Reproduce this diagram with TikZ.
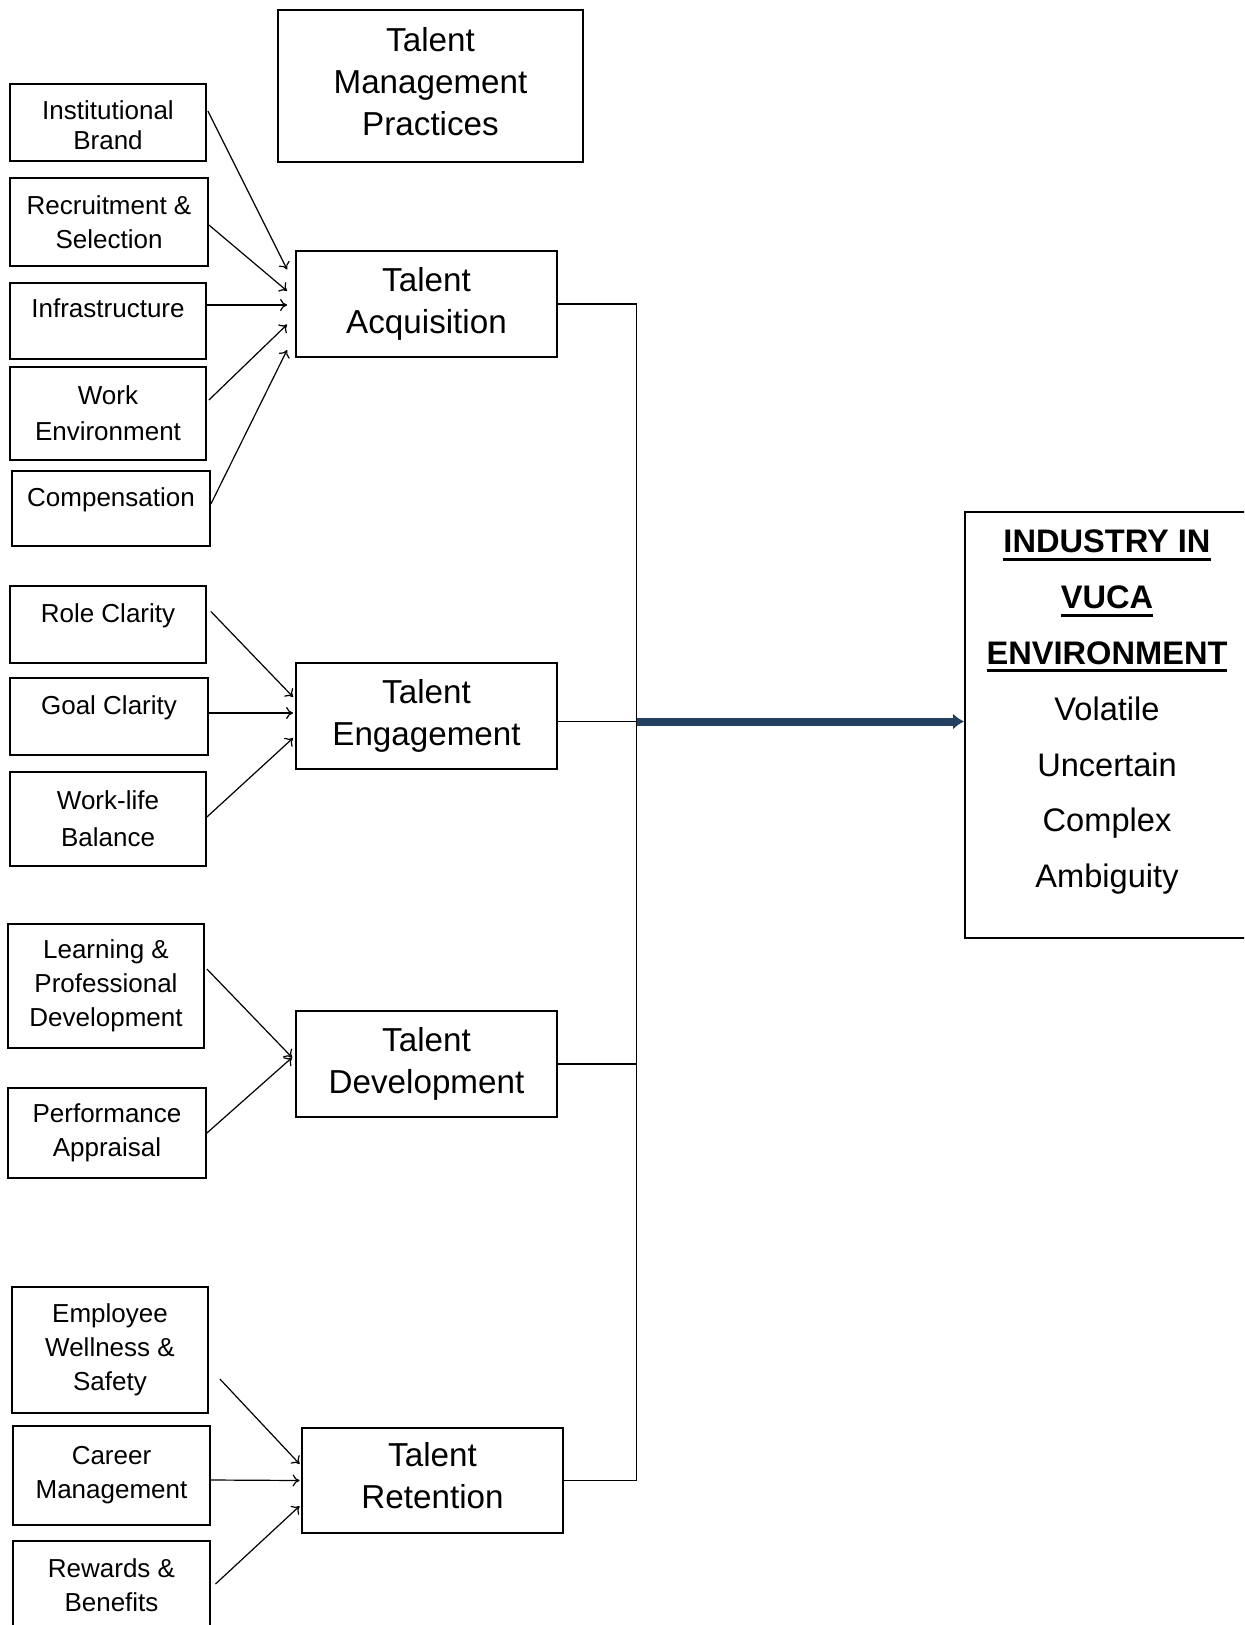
\documentclass[tikz,border=0pt]{standalone}
\usepackage{fontspec}
\setmainfont{Liberation Sans}
\usetikzlibrary{arrows.meta}
\definecolor{vucablue}{RGB}{36,64,97}
\newsavebox{\headbox}
\newcommand{\headline}[1]{\sbox{\headbox}{\textbf{#1}}\rlap{\rule[-4pt]{\wd\headbox}{1.5pt}}\usebox{\headbox}}

\begin{document}
\begin{tikzpicture}[x=0.5pt, y=-0.5pt, >={To[length=3.5pt,width=6pt]},
    factor/.style={draw, line width=0.9pt, align=center, inner sep=0pt, font=\fontsize{13}{17}\selectfont},
    practice/.style={draw, line width=0.9pt, align=center, inner sep=0pt, minimum width=130.5pt, minimum height=53pt, font=\fontsize{16.6}{21}\selectfont},
    hightext/.style={text height=9.4pt, text depth=11.1pt},
    feed/.style={->, line width=0.6pt},
    link/.style={line width=0.9pt},
    bigarrow/.style={-{Latex[length=5.5pt,width=8pt]}, line width=4pt, draw=vucablue}]

    \useasboundingbox (0,0) rectangle (1244,1625);
    \clip (0,0) rectangle (1244,1625);

    % Heading
    \node[practice, minimum width=152.5pt, minimum height=76pt] (tmp) at (430.5,86) {Talent\\Management\\Practices\\[-16.8pt]\mbox{}};

    % Talent acquisition
    \node[factor, minimum width=98pt, minimum height=38.5pt] (inst) at (108,122.5) {\mbox{}\\[-4.9pt]Institutional\\[-2pt]Brand};
    \node[factor, minimum width=99pt, minimum height=44pt] (recr) at (109,222) {Recruitment \&\\Selection};
    \node[factor, hightext, text depth=13pt, minimum width=98pt, minimum height=38pt] (infra) at (108,321) {Infrastructure};
    \node[factor, minimum width=98pt, minimum height=46.5pt] (work) at (108,413.5) {Work\\[1pt]Environment};
    \node[factor, hightext, minimum width=99pt, minimum height=37.5pt] (comp) at (111,508.5) {Compensation};
    \node[practice] (ta) at (426.5,304) {Talent\\Acquisition};

    \draw[feed] ([shift={(1,-11.5)}]inst.east) -- ([shift={(-8,-34.5)}]ta.west); % brand
    \draw[feed] ([shift={(0,3)}]recr.east) -- ([shift={(-8,-13)}]ta.west); % recruitment
    \draw[feed] ([shift={(0,-16)}]infra.east) -- ([shift={(-8,1)}]ta.west); % infrastructure
    \draw[feed] ([shift={(2,-13.5)}]work.east) -- ([shift={(-8,20.5)}]ta.west); % environment
    \draw[feed] ([shift={(0,-4.5)}]comp.east) -- ([shift={(-8,46)}]ta.west); % compensation

    % Talent engagement
    \node[factor, hightext, minimum width=98pt, minimum height=38.5pt] (role) at (108,624.5) {Role Clarity};
    \node[factor, hightext, minimum width=99pt, minimum height=38.5pt] (goal) at (109,716.5) {Goal Clarity};
    \node[factor, minimum width=98pt, minimum height=47pt] (wlb) at (108,819) {Work-life\\[1.5pt]Balance};
    \node[practice] (te) at (426.5,716) {Talent\\Engagement};

    \draw[feed] ([shift={(4,-13)}]role.east) -- ([shift={(-2,-19)}]te.west); % role
    \draw[feed] ([shift={(0,-3.5)}]goal.east) -- ([shift={(-2,-3)}]te.west); % goal
    \draw[feed] ([shift={(0,-2)}]wlb.east) -- ([shift={(-2,22)}]te.west); % balance

    % Talent development
    \node[factor, minimum width=98pt, minimum height=62pt] (lpd) at (106,986) {Learning \&\\Professional\\Development};
    \node[factor, minimum width=99pt, minimum height=45pt] (pa) at (107,1133) {Performance\\Appraisal};
    \node[practice] (td) at (426.5,1064) {Talent\\Development};

    \draw[feed] ([shift={(2,-17)}]lpd.east) -- ([shift={(-3,-6.5)}]td.west); % learning
    \draw[feed] (pa.east) -- ([shift={(-3,-6.5)}]td.west); % appraisal

    % Talent retention
    \node[factor, minimum width=98pt, minimum height=63pt] (ewb) at (110,1350) {Employee\\Wellness \&\\Safety};
    \node[factor, minimum width=98.5pt, minimum height=49.5pt] (cm) at (111.5,1475.5) {Career\\Management};
    \node[factor, minimum width=98.5pt, minimum height=44.5pt] (rb) at (111.5,1585.5) {Rewards \&\\Benefits};
    \node[practice, minimum height=52.5pt] (tr) at (432.5,1480.5) {Talent\\Retention\\[-15.8pt]\mbox{}};

    \draw[feed] ([shift={(11,29)}]ewb.east) -- ([shift={(-1.5,-16.5)}]tr.west); % wellness
    \draw[feed] ([shift={(0,4.5)}]cm.east) -- ([shift={(-1.5,0)}]tr.west); % career
    \draw[feed] ([shift={(4.6,-1.5)}]rb.east) -- ([shift={(-1.5,25.5)}]tr.west); % rewards

    % VUCA environment
    \node[draw, line width=0.9pt, align=center, inner sep=0pt, minimum width=142pt, minimum height=213pt, font=\fontsize{16.3}{27.9}\selectfont] (vuca) at (1107,725)
        {\headline{INDUSTRY IN}\\\headline{VUCA}\\\headline{ENVIRONMENT}\\Volatile\\Uncertain\\Complex\\Ambiguity\\[-11.8pt]\mbox{}};

    % Joining line and main arrow
    \coordinate (jn) at (636.5,721.5);
    \draw[link] (ta.east) -| (jn);
    \draw[link] (tr.east) -| (jn);
    \draw[link] ([shift={(0,5.5)}]te.east) -- (jn);
    \draw[link] (td.east) -- (td.east -| jn);
    \draw[bigarrow] (jn) -- (jn -| vuca.west);

\end{tikzpicture}
\end{document}
